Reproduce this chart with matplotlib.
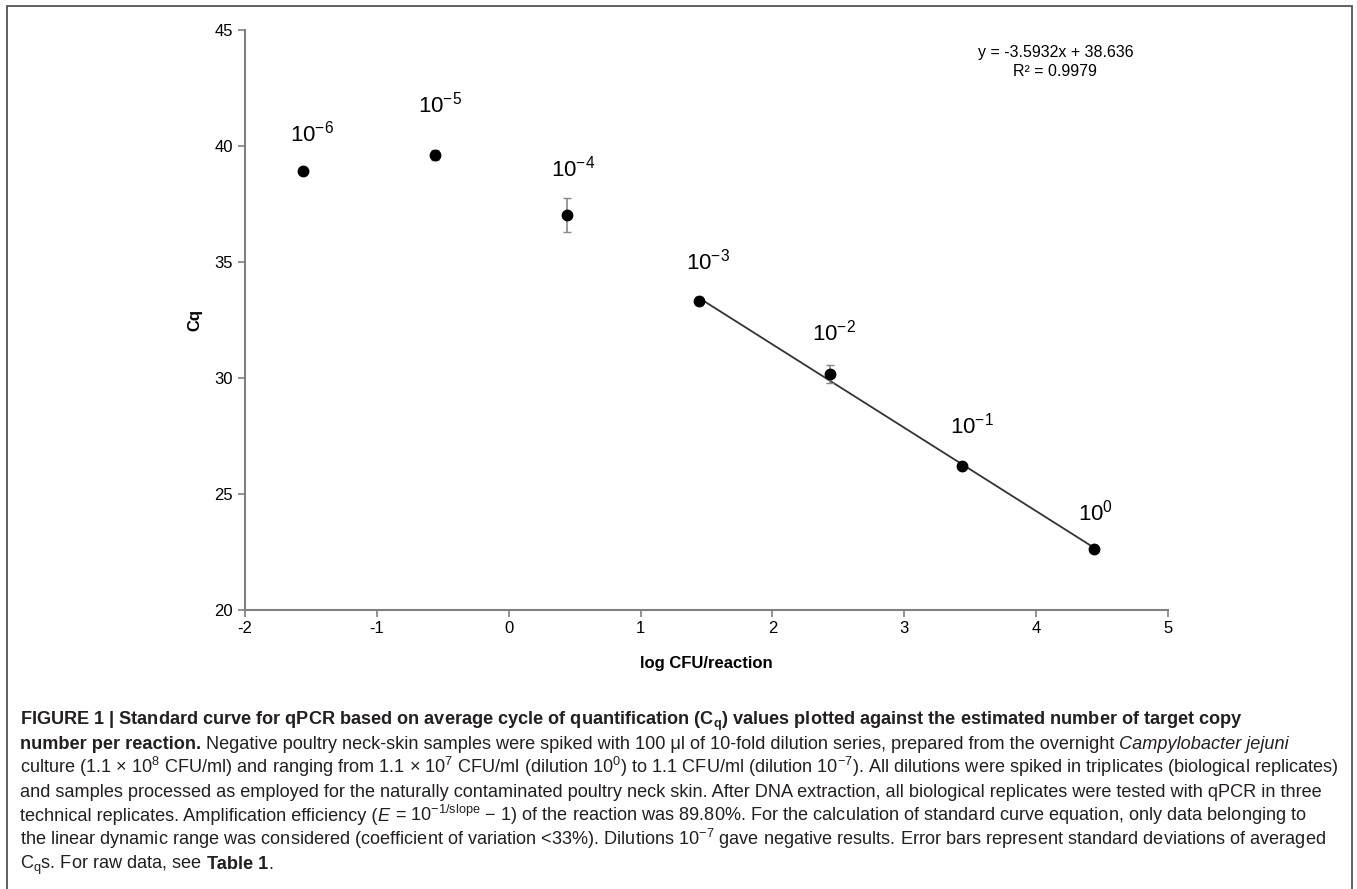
import matplotlib
matplotlib.use("Agg")
import matplotlib.pyplot as plt
from matplotlib import font_manager
from matplotlib.patches import Rectangle

# ---- data ----
log_cfu = [-1.56, -0.56, 0.44, 1.44, 2.44, 3.44, 4.44]
cq_mean = [38.92, 39.62, 37.03, 33.32, 30.18, 26.21, 22.63]
cq_sd = [0.05, 0.22, 0.72, 0.18, 0.40, 0.08, 0.06]
dilution_labels = [r"$10^{-6}$", r"$10^{-5}$", r"$10^{-4}$", r"$10^{-3}$",
                   r"$10^{-2}$", r"$10^{-1}$", r"$10^{0}$"]
slope = -3.5932
intercept = 38.636
r2 = 0.9979
fit_range = [1.44, 4.44]
xticks = [-2, -1, 0, 1, 2, 3, 4, 5]
yticks = [20, 25, 30, 35, 40, 45]

names = {f.name for f in font_manager.fontManager.ttflist}
narrow = "Liberation Sans Narrow" if "Liberation Sans Narrow" in names else "Liberation Sans"

plt.rcParams['font.family'] = ['Liberation Sans', 'DejaVu Sans']
plt.rcParams['mathtext.fontset'] = 'custom'
plt.rcParams['mathtext.rm'] = 'Liberation Sans'
plt.rcParams['mathtext.it'] = 'Liberation Sans:italic'
plt.rcParams['mathtext.bf'] = 'Liberation Sans:bold'

W, H = 1357, 889
fig = plt.figure(figsize=(W / 100, H / 100), dpi=100)

# figure border
fig.patches.append(Rectangle((7 / W, 1 - 895 / H), (1352 - 7) / W, (895 - 6) / H,
                             transform=fig.transFigure, fill=False,
                             edgecolor='#555555', linewidth=1.3))

ax = fig.add_axes([245 / W, 1 - 610 / H, (1168 - 245) / W, (610 - 30) / H])
ax.set_xlim(-2, 5)
ax.set_ylim(20, 45)
for s in ['top', 'right']:
    ax.spines[s].set_visible(False)
for s in ['left', 'bottom']:
    ax.spines[s].set_color('#808080')
    ax.spines[s].set_linewidth(1.5)
ax.set_xticks(xticks)
ax.set_yticks(yticks)
ax.set_xticklabels([str(v) for v in xticks])
ax.tick_params(axis='both', colors='#808080', labelcolor='black', labelsize=12,
               length=5, width=1.2, direction='out')
ax.tick_params(axis='x', pad=3)

# trendline
fx = fit_range
fy = [slope * v + intercept for v in fx]
ax.plot(fx, fy, color='#333333', linewidth=1.3, zorder=2)

ax.errorbar(log_cfu, cq_mean, yerr=cq_sd, fmt='o', color='black', ms=7.5,
            ecolor='#888888', elinewidth=1.2, capsize=3, capthick=1.0, zorder=3)

label_dx = [0.065, 0.04, 0.05, 0.07, 0.03, 0.07, 0.01]
label_dy = [1.06, 1.63, 1.43, 1.13, 1.2, 1.18, 1.0]
for x, y, lab, dx, dy in zip(log_cfu, cq_mean, dilution_labels, label_dx, label_dy):
    ax.text(x + dx, y + dy, lab, ha='center', va='bottom', fontsize=16)

ax.text(4.146, 44.05, f"y = {slope}x + {intercept}", ha='center', va='center', fontsize=11.5)
ax.text(4.146, 43.19, f"R² = {r2}", ha='center', va='center', fontsize=11.5)

ax.set_xlabel("log CFU/reaction", fontsize=12, fontweight='bold', labelpad=14)
ax.set_ylabel("Cq", fontsize=12, fontweight='bold', labelpad=9)

# ---- caption ----
renderer = fig.canvas.get_renderer()
cap_fs = 13.1
cap_family = [narrow, 'DejaVu Sans']


def draw_line(y_px, segments, x_px=20):
    x = x_px / W
    for txt, weight, style in segments:
        t = fig.text(x, 1 - y_px / H, txt, fontsize=cap_fs, fontweight=weight,
                     fontstyle=style, family=cap_family, ha='left', va='baseline',
                     color='#231f20')
        bb = t.get_window_extent(renderer=renderer)
        x = bb.x1 / (W)


plt.rcParams['mathtext.rm'] = narrow
plt.rcParams['mathtext.it'] = narrow + ':italic'
plt.rcParams['mathtext.bf'] = narrow + ':bold'

lines = [
    [("FIGURE 1 | Standard curve for qPCR based on average cycle of quantification (C$_\\mathbf{q}$) values plotted against the estimated number of target copy", 'bold', 'normal')],
    [("number per reaction.", 'bold', 'normal'),
     (" Negative poultry neck-skin samples were spiked with 100 μl of 10-fold dilution series, prepared from the overnight", 'normal', 'normal'),
     (" Campylobacter jejuni", 'normal', 'italic')],
    [("culture (1.1 × 10$^{8}$ CFU/ml) and ranging from 1.1 × 10$^{7}$ CFU/ml (dilution 10$^{0}$) to 1.1 CFU/ml (dilution 10$^{-7}$). All dilutions were spiked in triplicates (biological replicates)", 'normal', 'normal')],
    [("and samples processed as employed for the naturally contaminated poultry neck skin. After DNA extraction, all biological replicates were tested with qPCR in three", 'normal', 'normal')],
    [("technical replicates. Amplification efficiency (", 'normal', 'normal'),
     ("E", 'normal', 'italic'),
     (" = 10$^{-1/\\mathrm{slope}}$ − 1) of the reaction was 89.80%. For the calculation of standard curve equation, only data belonging to", 'normal', 'normal')],
    [("the linear dynamic range was considered (coefficient of variation <33%). Dilutions 10$^{-7}$ gave negative results. Error bars represent standard deviations of averaged", 'normal', 'normal')],
    [("C$_\\mathrm{q}$s. For raw data, see", 'normal', 'normal'),
     (" Table 1", 'bold', 'normal'),
     (".", 'normal', 'normal')],
]
baselines = [725, 749, 773, 797, 821, 845, 869]
for yb, segs in zip(baselines, lines):
    draw_line(yb, segs)

fig.savefig("out.png", dpi=100)
